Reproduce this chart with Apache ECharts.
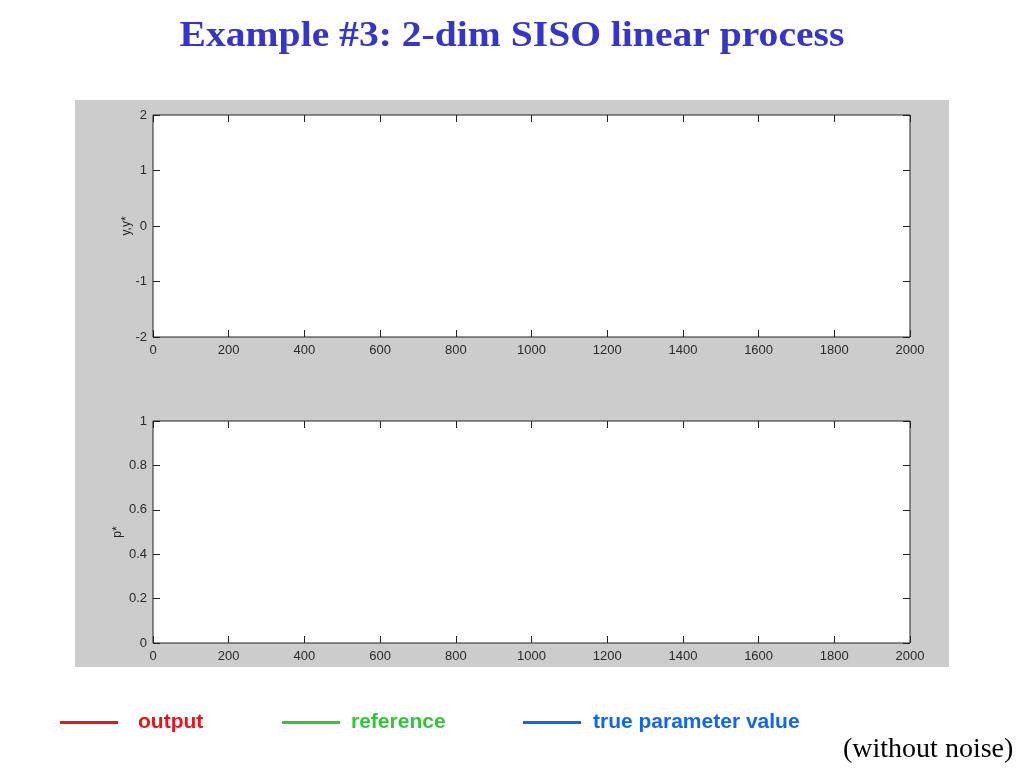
<!DOCTYPE html>
<html><head><meta charset="utf-8">
<script src="https://cdn.jsdelivr.net/npm/echarts@6/dist/echarts.min.js"></script>
<style>html,body{margin:0;padding:0;background:#fff}#c{width:1024px;height:768px}</style>
</head><body><div id="c"></div>
<script>
const titleText = 'Example #3: 2-dim SISO linear process';
const seriesNames = ['output', 'reference', 'true parameter value'];
const seriesColors = ['#e8141c', '#33c43a', '#1166ee'];
const outputData = [];
const referenceData = [];
const trueParamData = [];
const xRange = [0, 2000, 200];
const yTopRange = [-2, 2, 1];
const yBotRange = [0, 1, 0.2];
const yTopName = 'y,y*';
const yBotName = 'p*';
const note = '(without noise)';

const tickFont = {fontFamily: '"Liberation Sans", Arial, sans-serif', fontSize: 13, color: '#2a2a2a', formatter: v => String(v)};
function xAx(gi, pos, labels) {
  return {type: 'value', gridIndex: gi, position: pos, min: xRange[0], max: xRange[1], interval: xRange[2],
    axisLine: {show: false, onZero: false}, splitLine: {show: false},
    axisTick: {show: true, inside: true, length: 7, lineStyle: {color: '#222'}},
    axisLabel: labels ? Object.assign({show: true, margin: 7}, tickFont) : {show: false}};
}
function yAx(gi, pos, r, labels, name, gap) {
  return {type: 'value', gridIndex: gi, position: pos, min: r[0], max: r[1], interval: r[2],
    name: name || '', nameLocation: 'middle', nameGap: gap || 20, nameMoveOverlap: false,
    nameTextStyle: {fontFamily: '"Liberation Sans", Arial, sans-serif', fontSize: 12, color: '#222'},
    axisLine: {show: false, onZero: false}, splitLine: {show: false},
    axisTick: {show: true, inside: true, length: 7, lineStyle: {color: '#222'}},
    axisLabel: labels ? Object.assign({show: true, margin: 6}, tickFont) : {show: false}};
}
function leg(i, left, pad) {
  return {left: left, top: 712, padding: 0, itemWidth: 58, itemHeight: 3, icon: 'rect',
    data: [{name: seriesNames[i]}],
    textStyle: {color: seriesColors[i], padding: [0, 0, 0, pad], fontFamily: '"Liberation Sans", Arial, sans-serif', fontWeight: 'bold', fontSize: 21}};
}
const chart = echarts.init(document.getElementById('c'));
chart.setOption({
  animation: false,
  graphic: [
    {type: 'rect', z: -100, shape: {x: 75, y: 100, width: 874, height: 567}, style: {fill: '#cccccc'}},
    {type: 'text', x: 512, y: 37, scaleX: 1.1, style: {x: 0, y: 0, text: titleText, align: 'center', verticalAlign: 'middle',
      font: 'bold 36px "Liberation Serif", "Times New Roman"', fill: '#3535c8'}},
    {type: 'text', left: 843, top: 736, style: {text: note, font: '28px "Liberation Serif", "Times New Roman"', fill: '#000'}}
  ],
  legend: [leg(0, 60, 15), leg(1, 282, 6), leg(2, 523, 7)],
  grid: [
    {left: 153, right: 114, top: 115, height: 222, show: true, backgroundColor: '#fff', borderColor: '#222', borderWidth: 1},
    {left: 153, right: 114, top: 421, height: 222, show: true, backgroundColor: '#fff', borderColor: '#222', borderWidth: 1}
  ],
  xAxis: [xAx(0, 'bottom', true), xAx(0, 'top', false), xAx(1, 'bottom', true), xAx(1, 'top', false)],
  yAxis: [yAx(0, 'left', yTopRange, true, yTopName, 20), yAx(0, 'right', yTopRange, false),
          yAx(1, 'left', yBotRange, true, yBotName, 29), yAx(1, 'right', yBotRange, false)],
  series: [
    {name: seriesNames[0], type: 'line', xAxisIndex: 0, yAxisIndex: 0, data: outputData, symbol: 'none', color: seriesColors[0], lineStyle: {width: 2}},
    {name: seriesNames[1], type: 'line', xAxisIndex: 0, yAxisIndex: 0, data: referenceData, symbol: 'none', color: seriesColors[1], lineStyle: {width: 2}},
    {name: seriesNames[2], type: 'line', xAxisIndex: 2, yAxisIndex: 2, data: trueParamData, symbol: 'none', color: seriesColors[2], lineStyle: {width: 2}}
  ]
});
</script></body></html>
